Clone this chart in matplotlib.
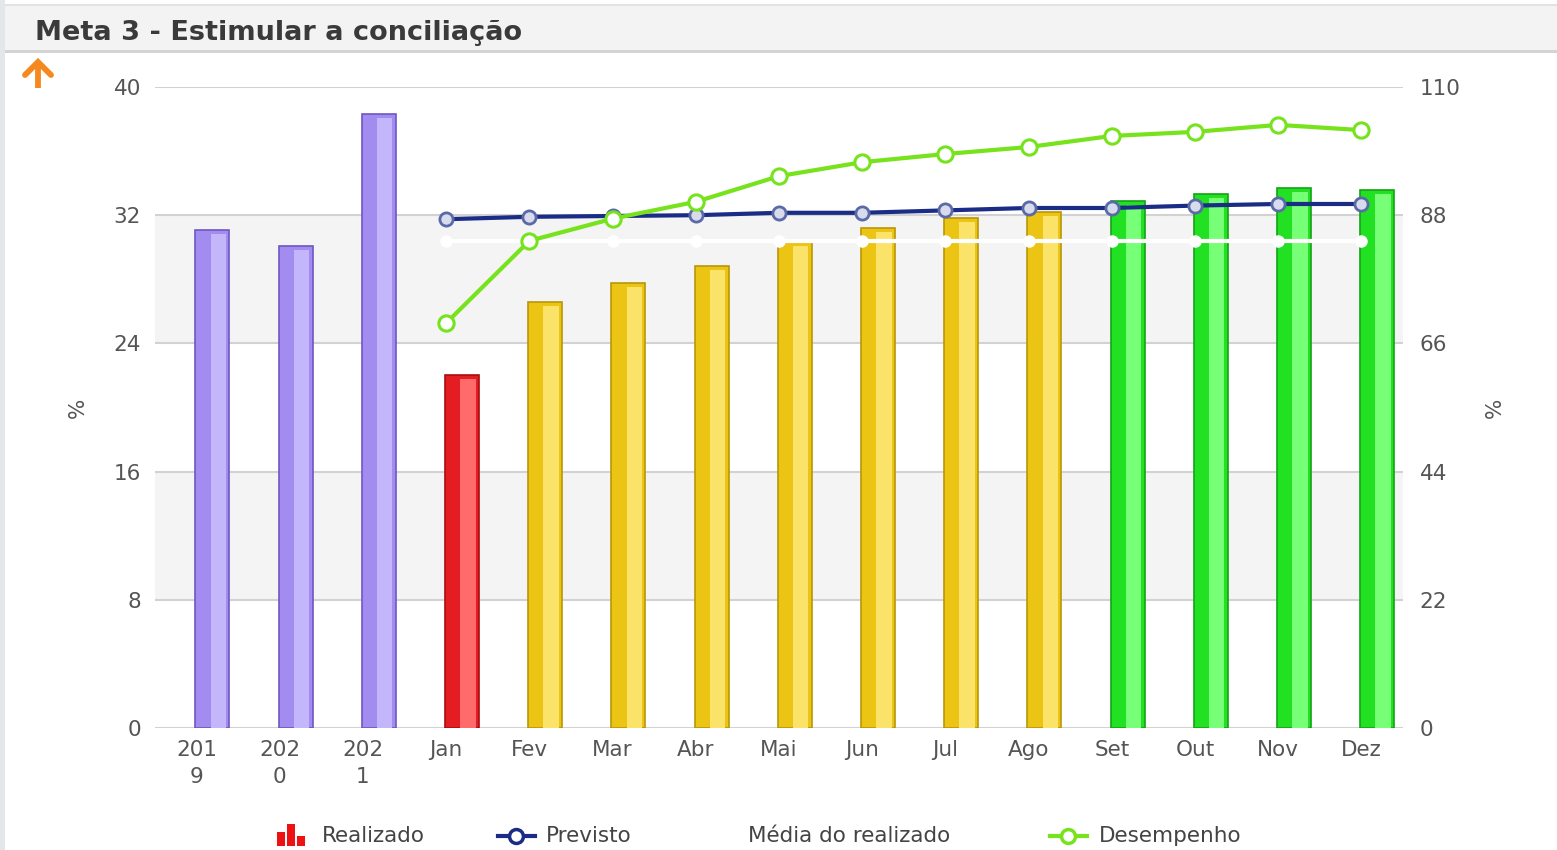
import matplotlib
matplotlib.use("Agg")
import matplotlib.pyplot as plt
from matplotlib.patches import Rectangle
from matplotlib.lines import Line2D
import numpy as np

# dados
categorias = ['201\n9', '202\n0', '202\n1', 'Jan', 'Fev', 'Mar', 'Abr', 'Mai',
              'Jun', 'Jul', 'Ago', 'Set', 'Out', 'Nov', 'Dez']
realizado = [31.1, 30.1, 38.3, 22.0, 26.6, 27.8, 28.8, 30.3, 31.2, 31.8, 32.2,
             32.9, 33.3, 33.7, 33.6]
cores_barra = ['roxo', 'roxo', 'roxo', 'vermelho', 'amarelo', 'amarelo', 'amarelo',
               'amarelo', 'amarelo', 'amarelo', 'amarelo', 'verde', 'verde', 'verde', 'verde']
meses = ['Jan', 'Fev', 'Mar', 'Abr', 'Mai', 'Jun', 'Jul', 'Ago', 'Set', 'Out', 'Nov', 'Dez']
previsto = [31.75, 31.9, 31.95, 32.0, 32.15, 32.15, 32.3, 32.45, 32.45, 32.6, 32.7, 32.7]
media_realizado = [30.4, 30.4, 30.4, 30.4, 30.4, 30.4, 30.4, 30.4, 30.4, 30.4, 30.4, 30.4]
desempenho = [69.5, 83.6, 87.4, 90.3, 94.7, 97.1, 98.5, 99.7, 101.6, 102.3, 103.5, 102.6]

paleta = {
    'roxo': ('#a28cf0', '#c4b6fb', '#6f57c4'),
    'vermelho': ('#e41d22', '#ff6b6b', '#a80e12'),
    'amarelo': ('#ecc413', '#fbe36a', '#b89708'),
    'verde': ('#22e022', '#77ff77', '#14a314'),
}

W, H = 1557, 850
fs = 15.5
fig = plt.figure(figsize=(W / 100, H / 100), dpi=100)
fig.patch.set_facecolor('white')

# barra de titulo
fig.add_artist(Rectangle((0, 1 - 51 / H), 1, 46 / H, transform=fig.transFigure,
                         facecolor='#f3f3f3', edgecolor='none', zorder=0))
fig.add_artist(Rectangle((0, 1 - 53 / H), 1, 3 / H, transform=fig.transFigure,
                         facecolor='#d4d4d4', edgecolor='none', zorder=0))
fig.add_artist(Rectangle((0, 1 - 6 / H), 1, 2 / H, transform=fig.transFigure,
                         facecolor='#e2e2e2', edgecolor='none', zorder=0))
fig.add_artist(Rectangle((0, 0), 5 / W, 1, transform=fig.transFigure,
                         facecolor='#e4e6ea', edgecolor='none', zorder=0))
fig.text(35 / W, 1 - 33 / H, 'Meta 3 - Estimular a conciliação', fontsize=19.5,
         fontweight='bold', color='#3a3a3a', va='center', ha='left')

# seta laranja
laranja = '#f5891f'
fig.add_artist(Line2D([38 / W, 38 / W], [1 - 88 / H, 1 - 63 / H], transform=fig.transFigure,
                      color=laranja, lw=4.2, solid_capstyle='butt'))
fig.add_artist(Line2D([25 / W, 38 / W, 51 / W], [1 - 75 / H, 1 - 62 / H, 1 - 75 / H],
                      transform=fig.transFigure, color=laranja, lw=4.2,
                      solid_capstyle='round', solid_joinstyle='miter'))

ax = fig.add_axes([155 / W, 1 - 728 / H, (1403 - 155) / W, (728 - 87) / H])
ax.set_facecolor('white')
x = np.arange(len(categorias))
xm = np.arange(3, 3 + len(meses))

# faixas e grade
for a, b in [(8, 16), (24, 32)]:
    ax.axhspan(a, b, color='#f4f4f4', zorder=0, lw=0)
for v in range(0, 41, 8):
    ax.axhline(v, color='#d2d2d2', lw=1.5, zorder=1)

largura = 0.41
desloc = 0.19
for i, (v, c) in enumerate(zip(realizado, cores_barra)):
    base, claro, borda = paleta[c]
    ax.bar(x[i] + desloc, v, width=largura, color=base, edgecolor=borda, lw=1.2, zorder=2)
    ax.bar(x[i] + desloc + 0.07, v - 0.25, width=largura * 0.45, color=claro,
           edgecolor='none', zorder=2.5)

ax.plot(xm, media_realizado, color='white', lw=3, marker='o', ms=8,
        markerfacecolor='white', markeredgecolor='white', zorder=3)
ax.plot(xm, previsto, color='#1a2c86', lw=3, marker='o', ms=9.5,
        markerfacecolor='#d7dbeb', markeredgecolor='#5a6aa8', markeredgewidth=2, zorder=4)

ax.set_xlim(-0.5, len(categorias) - 0.5)
ax.set_ylim(0, 40)
ax.set_yticks(range(0, 41, 8))
ax.set_xticks(x)
ax.set_xticklabels(categorias, linespacing=1.4, va='top')
ax.tick_params(axis='both', length=0, labelsize=fs, labelcolor='#555555')
ax.tick_params(axis='x', pad=9)
ax.tick_params(axis='y', pad=10)
for s in ax.spines.values():
    s.set_visible(False)

ax2 = ax.twinx()
ax2.plot(xm, desempenho, color='#76e31c', lw=3, marker='o', ms=11,
         markerfacecolor='white', markeredgecolor='#76e31c', markeredgewidth=2.2, zorder=5)
ax2.set_ylim(0, 110)
ax2.set_yticks(range(0, 111, 22))
ax2.tick_params(axis='y', length=0, labelsize=fs, labelcolor='#555555', pad=12)
for s in ax2.spines.values():
    s.set_visible(False)

fig.text(78 / W, 1 - 408 / H, '%', rotation=90, fontsize=fs, color='#555555',
         ha='center', va='center')
fig.text(1495 / W, 1 - 408 / H, '%', rotation=90, fontsize=fs, color='#555555',
         ha='center', va='center')

# legenda
ly = 1 - 836 / H
for bx, bh in [(277, 14), (287, 22), (297, 10)]:
    fig.add_artist(Rectangle((bx / W, ly - 10 / H), 8 / W, bh / H, transform=fig.transFigure,
                             facecolor='#ee1111', edgecolor='none'))
fig.add_artist(Line2D([498 / W, 535 / W], [ly, ly], transform=fig.transFigure,
                      color='#1a2c86', lw=3))
fig.add_artist(Line2D([516 / W], [ly], transform=fig.transFigure, marker='o', ms=10,
                      markerfacecolor='white', markeredgecolor='#1a2c86', markeredgewidth=2.5))
fig.add_artist(Line2D([1050 / W, 1087 / W], [ly, ly], transform=fig.transFigure,
                      color='#76e31c', lw=3))
fig.add_artist(Line2D([1068 / W], [ly], transform=fig.transFigure, marker='o', ms=10,
                      markerfacecolor='white', markeredgecolor='#76e31c', markeredgewidth=2.5))
for tx, t in [(322, 'Realizado'), (546, 'Previsto'), (748, 'Média do realizado'),
              (1099, 'Desempenho')]:
    fig.text(tx / W, ly, t, fontsize=fs, color='#444444', ha='left', va='center')

fig.savefig('out.png', dpi=100)
